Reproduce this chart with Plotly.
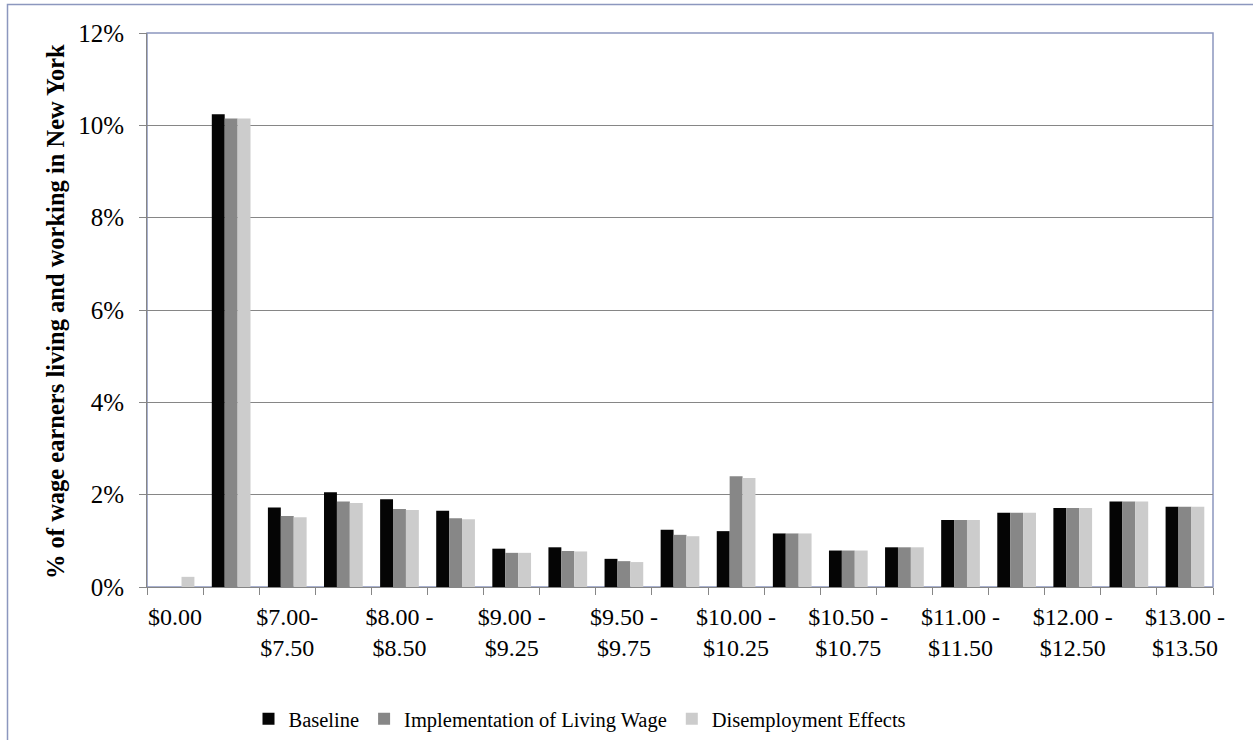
import plotly.graph_objects as go

categories = ["$0.00", "$0.01 - $7.00", "$7.00- $7.50", "$7.50 - $8.00", "$8.00 - $8.50",
              "$8.50 - $9.00", "$9.00 - $9.25", "$9.25 - $9.50", "$9.50 - $9.75",
              "$9.75 - $10.00", "$10.00 - $10.25", "$10.25 - $10.50", "$10.50 - $10.75",
              "$10.75 - $11.00", "$11.00 - $11.50", "$11.50 - $12.00", "$12.00 - $12.50",
              "$12.50 - $13.00", "$13.00 - $13.50"]
tick_labels = ["$0.00", "", "$7.00-<br>$7.50", "", "$8.00 -<br>$8.50", "", "$9.00 -<br>$9.25", "",
               "$9.50 -<br>$9.75", "", "$10.00 -<br>$10.25", "", "$10.50 -<br>$10.75", "",
               "$11.00 -<br>$11.50", "", "$12.00 -<br>$12.50", "", "$13.00 -<br>$13.50"]

baseline = [0.0, 10.24, 1.72, 2.05, 1.90, 1.65, 0.83, 0.86, 0.61, 1.24, 1.21, 1.16, 0.79, 0.86,
            1.45, 1.61, 1.71, 1.85, 1.74]
implementation = [0.0, 10.15, 1.54, 1.85, 1.69, 1.49, 0.74, 0.78, 0.56, 1.13, 2.40, 1.16, 0.79, 0.86,
                  1.45, 1.61, 1.71, 1.85, 1.74]
disemployment = [0.22, 10.15, 1.51, 1.82, 1.67, 1.47, 0.74, 0.77, 0.54, 1.10, 2.36, 1.16, 0.79, 0.86,
                 1.45, 1.61, 1.71, 1.85, 1.74]

series = [("Baseline", baseline, "#050505"),
          ("Implementation of Living Wage", implementation, "#878787"),
          ("Disemployment Effects", disemployment, "#CCCCCC")]

FONT = "Times New Roman, Liberation Serif, DejaVu Serif, serif"

fig = go.Figure()
for name, vals, col in series:
    fig.add_trace(go.Bar(x=categories, y=[v / 100 for v in vals], name=name,
                         marker=dict(color=col, line=dict(width=0))))

W, H = 1253, 740
L, R, T, B = 147, 40, 33, 153
pw = W - L - R
ph = H - T - B

def px_x(x):
    return (x - L) / pw

def px_y(y):
    return (H - B - y) / ph

fig.update_layout(
    width=W, height=H,
    margin=dict(l=L, r=R, t=T, b=B, autoexpand=False),
    paper_bgcolor="white", plot_bgcolor="white",
    font=dict(family=FONT, size=22, color="black"),
    barmode="group", bargap=0.31, bargroupgap=0,
    showlegend=True,
    legend=dict(orientation="h", x=px_x(580), xanchor="center", y=px_y(719), yanchor="middle",
                font=dict(family=FONT, size=20.5, color="black"), itemwidth=30,
                traceorder="normal", itemclick=False),
    xaxis=dict(type="category", categoryorder="array", categoryarray=categories,
               tickmode="array", tickvals=categories, ticktext=tick_labels,
               tickson="boundaries", ticks="outside", ticklen=7, tickcolor="#868686",
               showline=True, linecolor="#868686", linewidth=1, showgrid=False,
               tickangle=0, tickfont=dict(family=FONT, size=24, color="black"),
               ticklabelstandoff=8, range=[-0.5, 18.5]),
    yaxis=dict(range=[0, 0.12], dtick=0.02, tick0=0, tickformat=".0%",
               ticks="outside", ticklen=7, tickcolor="#868686",
               showline=True, linecolor="#868686", linewidth=1,
               showgrid=True, gridcolor="#868686", gridwidth=1, zeroline=False,
               tickfont=dict(family=FONT, size=25, color="black"), ticklabelstandoff=10),
)

# plot area border (top/right bluish)
fig.add_shape(type="rect", xref="paper", yref="paper", x0=0, x1=1, y0=0, y1=1,
              line=dict(color="#8C97BE", width=1.5), layer="below")
# outer chart frame
fig.add_shape(type="rect", xref="paper", yref="paper",
              x0=px_x(7.5), x1=px_x(1300), y0=px_y(800), y1=px_y(4.5),
              line=dict(color="#8C97BE", width=1.5))

fig.add_annotation(text="<b>% of wage earners living and working in New York</b>",
                   xref="paper", yref="paper", x=px_x(55), y=px_y(312),
                   textangle=-90, showarrow=False, xanchor="center", yanchor="middle",
                   font=dict(family=FONT, size=24.5, color="black"))

fig.write_html("out.html")
